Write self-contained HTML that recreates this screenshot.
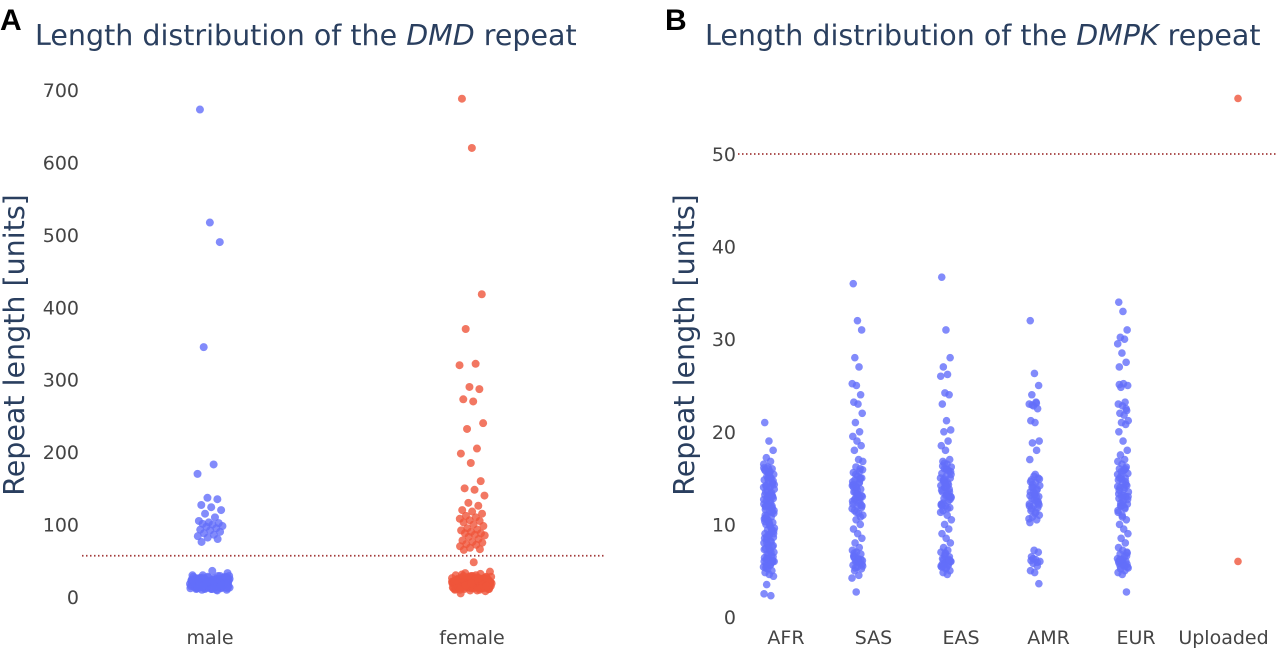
<!DOCTYPE html>
<html><head><meta charset="utf-8">
<style>
html,body{margin:0;padding:0;background:#fff;}
svg{display:block;font-family:"DejaVu Sans","Liberation Sans",sans-serif;}
.tick{fill:#444;font-size:19px;}
.ttl{fill:#2a3f5f;font-size:28.5px;}
</style></head>
<body>
<svg id="fig" width="1280" height="652" viewBox="0 0 1280 652">
  <g id="pa">
    <text x="0" y="30" font-family="Liberation Sans, sans-serif" font-weight="bold" font-size="30" fill="#000">A</text>
    <text class="ttl" x="35" y="45">Length distribution of the <tspan font-style="italic">DMD</tspan> repeat</text>
    <text class="ttl" transform="translate(24,345) rotate(-90)" text-anchor="middle" font-size="25">Repeat length [units]</text>
  </g>
  <g id="pb">
    <text x="665" y="30" font-family="Liberation Sans, sans-serif" font-weight="bold" font-size="30" fill="#000">B</text>
    <text class="ttl" x="705" y="45">Length distribution of the <tspan font-style="italic">DMPK</tspan> repeat</text>
    <text class="ttl" transform="translate(694,345) rotate(-90)" text-anchor="middle" font-size="25">Repeat length [units]</text>
  </g>
</svg>
<script>
// Panel A data
const aCategories = ["male","female"];
const aTicks = [0,100,200,300,400,500,600,700];
const aThreshold = 57;
const maleValues = [673,517,490,345,183,170,137,135,127,124,120,115,110,105,103,102,101,100,98,97,95,93,92,90,88,86,84,82,80,76,36,
 33,30,29,28,27,27,26,26,25,25,24,24,23,23,22,22,22,21,21,21,20,20,20,20,19,19,19,19,18,18,18,18,17,17,17,17,16,16,16,16,15,15,15,15,14,14,14,13,13,13,12,12,12,11,11,10,10,9,
 30,28,26,25,24,23,22,21,20,19,18,17,16,15,14,13,12,11,27,25,23,21,19,17,15,13,29,24,20,16,12,
 28,26,24,22,20,18,16,14,12,27,25,23,21,19,17,15,13,11,29,26,22,18,14,10,24,20,16,12,23,19,15];
const femaleValues = [688,620,418,370,322,320,290,287,273,270,240,232,205,198,185,160,150,148,140,130,126,120,118,115,112,110,108,106,105,103,100,98,95,93,92,90,88,88,86,85,83,80,78,76,75,73,72,70,68,66,65,48,
 35,33,32,30,29,28,27,27,26,26,25,25,24,24,23,23,22,22,22,21,21,21,20,20,20,20,19,19,19,19,18,18,18,18,17,17,17,17,16,16,16,16,15,15,15,15,14,14,14,13,13,13,12,12,12,11,11,10,10,9,8,5,
 30,28,26,25,24,23,22,21,20,19,18,17,16,15,14,13,12,11,27,25,23,21,19,17,15,13,29,24,20,16,12,
 28,26,24,22,20,18,16,14,12,27,25,23,21,19,17,15,13,11,29,26,22,18,14,10,24,20,16,12,23,19,15,31,9];
// Panel B data
const bCategories = ["AFR","SAS","EAS","AMR","EUR","Uploaded"];
const bTicks = [0,10,20,30,40,50];
const bThreshold = 50;
const afrValues = [21,19,18,17.2,16.8,16.5,16.2,16,15.8,15.6,15.4,15.2,15,14.8,14.6,14.4,14.2,14,13.8,13.6,13.4,13.2,13,12.8,12.6,12.4,12.2,12,11.8,11.6,11.4,11.2,11,10.8,10.6,10.4,10.2,10,9.8,9.6,9.4,9.2,9,8.8,8.6,8.4,8.2,8,7.8,7.6,7.4,7.2,7,6.8,6.6,6.4,6.2,6,5.8,5.6,5.4,5.2,5,4.8,4.6,4.4,3.5,2.3,2.5,
 15.5,14.5,13.5,12.5,11.5,10.5,9.5,8.5,7.5,6.5,5.5,15,14,13,12,11,10,9,8,7,6,16,13,12,14,6,6.2,5.9,
 15.9,15.3,14.7,14.1,13.3,12.7,12.1,11.3,10.7,10.1,9.3,8.7,8.1,7.3,6.7,6.1,5.3,15.7,14.3,12.9,11.7,10.3,8.9,7.7,6.3,5.7,16.1,14.9,13.1,11.9];
const sasValues = [36,32,31,28,27,25.2,25,24,23.2,23,22,21,20,19.5,19,18.5,18,17,16.8,16.2,16,15.6,15.2,15,14.8,14.5,14.2,14,13.8,13.5,13.2,13,12.8,12.5,12.2,12,11.8,11.5,11.2,11,10.5,10,9.5,9,8.5,8,7.5,7.2,7,6.8,6.5,6.3,6.1,6,5.8,5.6,5.4,5.2,5,4.5,4.2,2.7,
 15,14,13,12,13.5,14.5,12.5,6,6.2,6.4,5.9,
 15.9,15.4,14.9,14.3,13.7,13.1,12.7,12.3,11.7,11.3,10.8,6.6,6.2,5.7,5.3,15.7,14.6,13.3,12.1,6.9,6.1,5.5,14.1,12.9];
const easValues = [36.7,31,28,27,26.2,26,24.2,24,23,21.2,20.2,20,19,18.5,18,17,16.8,16.5,16.2,16,15.8,15.5,15.2,15,14.8,14.5,14.2,14,13.8,13.5,13.2,13,12.8,12.5,12.2,12,11.8,11.5,11,10.5,10,9.5,9,8.5,8,7.5,7.2,7,6.8,6.5,6.3,6.1,6,5.8,5.6,5.4,5.2,5,4.8,4.6,
 15,14,13,12,16,6,6.2,5.7,5.5,14.5,13.5,
 16.3,15.9,15.4,14.9,14.3,13.7,13.1,12.7,12.3,11.7,11.3,6.6,6.2,5.7,5.3,15.7,14.6,13.3,12.1,6.9,6.1,5.5,14.1,12.9,16.6];
const amrValues = [32,26.3,25,24,23.2,23,22.8,22.5,21.2,21,19,18.8,18,17,15.2,15,14.8,14.5,14.2,14,13.8,13.5,13.2,13,12.8,12.5,12.2,12,11.8,11.5,11.2,11,10.8,10.5,10.2,7.2,7,6.5,6.2,6,5.8,5.5,5,4.8,3.6,
 14,13,12,13.5,12.5,6.1,
 15.4,14.9,14.3,13.7,13.1,12.7,12.3,11.7,11.3,10.6,6.3,5.9,14.6,13.3,12.1,22.9,23.1];
const eurValues = [34,33,31,30.2,30,29.5,28.5,27.5,27,25.2,25,24.8,23.2,23,22.8,22.3,22,21.8,21.2,21,20.8,20,19,18,17.5,17,16.8,16.5,16.2,16,15.8,15.5,15.2,15,14.8,14.5,14.2,14,13.8,13.5,13.2,13,12.8,12.5,12.2,12,11.8,11.5,11,10.5,10,9.5,9,8.5,8,7.5,7.2,7,6.8,6.5,6.3,6.1,6,5.8,5.6,5.4,5.2,5,4.8,4.6,2.7,
 15,14,13,12,16,6,6.2,5.7,5.5,
 15.9,15.4,14.9,14.3,13.7,13.1,12.7,12.3,11.7,11.3,10.8,6.6,6.2,5.7,5.3,15.7,14.6,13.3,12.1,6.9,6.1,5.5,14.1,12.9,22.5,25.1];
const uploadedValues = [56,6];

const NS = "http://www.w3.org/2000/svg";
const BLUE = "#636efa", RED = "#ef553b";
function mk(tag, attrs, parent){
  const e = document.createElementNS(NS, tag);
  for (const k in attrs) e.setAttribute(k, attrs[k]);
  parent.appendChild(e); return e;
}
function jit(i, w){ return (((i*37 + 11) % 97) / 97 - 0.5) * w; }

// Panel A scales
const aY = v => 597 - v * (507/700);
const aX = i => [210, 472][i];
const pa = document.getElementById('pa');
aTicks.forEach(t => {
  const e = mk('text', {x: 79, y: aY(t) + 7, 'text-anchor': 'end', class: 'tick'}, pa);
  e.textContent = t;
  
  
});
aCategories.forEach((c, i) => {
  const e = mk('text', {x: aX(i), y: 644, 'text-anchor': 'middle', class: 'tick'}, pa);
  e.textContent = c;
  
  
});
const la = mk('line', {x1: 82, x2: 604, y1: aY(aThreshold), y2: aY(aThreshold), stroke: '#a23b3b', 'stroke-width': 1.8, 'stroke-dasharray': '1.5,2.5'}, pa);


[[maleValues, BLUE], [femaleValues, RED]].forEach(([vals, col], ci) => {
  vals.forEach((v, i) => {
    const w = v < 40 ? 40 : 26;
    const p = mk('circle', {cx: aX(ci) + jit(i, w), cy: aY(v), r: 4, fill: col, 'fill-opacity': 0.8}, pa);
    
    
  });
});

// Panel B scales
const bY = v => 617 - v * (463/50);
const bLabelX = i => 786 + i * 87.5;
const bPointX = i => i < 5 ? 769 + i * 88.5 : 1238;
const pb = document.getElementById('pb');
bTicks.forEach(t => {
  const e = mk('text', {x: 736, y: bY(t) + 7, 'text-anchor': 'end', class: 'tick'}, pb);
  e.textContent = t;
  
  
});
bCategories.forEach((c, i) => {
  const e = mk('text', {x: bLabelX(i), y: 644, 'text-anchor': 'middle', class: 'tick'}, pb);
  e.textContent = c;
  
  
});
const lb = mk('line', {x1: 738, x2: 1276, y1: bY(bThreshold), y2: bY(bThreshold), stroke: '#a23b3b', 'stroke-width': 1.8, 'stroke-dasharray': '1.5,2.5'}, pb);


[afrValues, sasValues, easValues, amrValues, eurValues, uploadedValues].forEach((vals, ci) => {
  const col = ci === 5 ? RED : BLUE;
  vals.forEach((v, i) => {
    const p = mk('circle', {cx: bPointX(ci) + (ci === 5 ? 0 : jit(i, 11)), cy: bY(v), r: 3.8, fill: col, 'fill-opacity': 0.8}, pb);
    
    
  });
});
</script>
</body></html>
